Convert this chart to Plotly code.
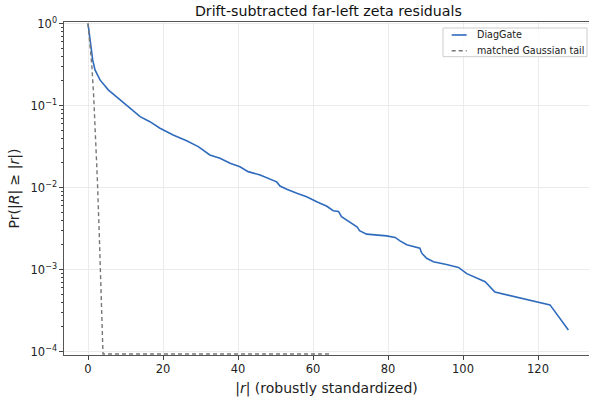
import plotly.graph_objects as go

diag_r = [0.0, 0.8, 1.25, 1.87, 3.2, 5.4, 8.5, 10.7, 13.9, 16.5, 19.2, 22.7, 26.3, 29.4,
          30.7, 32.5, 35.2, 37.9, 40.5, 42.7, 45.9, 48.5, 50.3, 51.2, 53.0, 55.7, 58.3,
          61.0, 63.7, 65.4, 66.8, 67.6, 69.9, 70.8, 71.8, 72.4, 74.3, 79.6, 81.9, 83.2,
          85.0, 88.5, 89.0, 90.3, 92.1, 95.6, 98.8, 101.0, 105.9, 108.5, 123.2, 128.1]
diag_p = [1.0, 0.475, 0.359, 0.271, 0.205, 0.155, 0.117, 0.095, 0.073, 0.0634, 0.0527,
          0.0437, 0.0372, 0.0315, 0.0287, 0.0249, 0.0227, 0.0197, 0.0179, 0.0156, 0.0142,
          0.0126, 0.0117, 0.0104, 0.0095, 0.0085, 0.0077, 0.0067, 0.0059, 0.0052, 0.0051,
          0.0044, 0.0038, 0.00356, 0.0033, 0.00297, 0.0027, 0.00257, 0.00246, 0.00223,
          0.0020, 0.00182, 0.00158, 0.00137, 0.00124, 0.00115, 0.00106, 0.00089, 0.00071,
          0.00053, 0.00037, 0.000183]

# Matched Gaussian tail (floored at the bottom)
gauss_r = [0.0, 0.5, 1.0, 1.5, 2.0, 2.5, 3.0, 3.5, 3.9, 4.0, 65.0]
gauss_p = [1.0, 0.617, 0.317, 0.134, 0.0455, 0.0124, 0.0027, 0.000465, 0.0000962,
           0.000093, 0.000093]

series_names = ["DiagGate", "matched Gaussian tail"]
x_ticks = [0, 20, 40, 60, 80, 100, 120]
y_ticks = [1e-4, 1e-3, 1e-2, 1e-1, 1]
y_ticktext = ["10<sup>\u22124</sup>", "10<sup>\u22123</sup>", "10<sup>\u22122</sup>",
              "10<sup>\u22121</sup>", "10<sup>0</sup>"]
y_minor = [m * 10.0 ** e for e in (-4, -3, -2, -1) for m in range(2, 10)]

BLUE = "#2f6bbd"
GRAY = "#777777"
DASH = "4px,3px"

fig = go.Figure()
fig.add_trace(go.Scatter(x=diag_r, y=diag_p, mode="lines", name=series_names[0],
                         line=dict(color=BLUE, width=1.6)))
fig.add_trace(go.Scatter(x=gauss_r, y=gauss_p, mode="lines", name=series_names[1],
                         line=dict(color=GRAY, width=1.4, dash=DASH)))

font = "DejaVu Sans"
fig.update_layout(
    width=589, height=401,
    margin=dict(l=64, r=0, t=22, b=46),
    paper_bgcolor="white", plot_bgcolor="white",
    font=dict(family=font, size=11.5, color="#222222"),
    title=dict(text="Drift-subtracted far-left zeta residuals", x=0.5575, xanchor="center",
               y=0.972, yanchor="middle", font=dict(size=14.2, color="#111111")),
    showlegend=False,
)
fig.update_xaxes(
    range=[-6.4, 133.6], tickvals=x_ticks, ticks="outside", ticklen=3.5,
    tickcolor="#444444", showline=True, linecolor="#555555", linewidth=1.3, mirror=True,
    showgrid=True, gridcolor="#ebebeb", gridwidth=1, zeroline=False,
    title=dict(text="|<i>r</i>| (robustly standardized)", standoff=7),
)
fig.update_yaxes(
    type="log", range=[-4.043, 0.018], tickvals=y_ticks, ticktext=y_ticktext,
    ticks="outside", ticklen=3.5, tickcolor="#444444",
    showline=True, linecolor="#555555", linewidth=1.3, mirror=False,
    showgrid=True, gridcolor="#ebebeb", gridwidth=1, zeroline=False,
    minor=dict(tickmode="array", tickvals=y_minor, ticks="outside", ticklen=2,
               tickcolor="#444444", showgrid=False),
    title=dict(text="Pr(|<i>R</i>| \u2265 |<i>r</i>|)", standoff=7),
)

# Legend drawn as a box with sample lines (matplotlib-like compact legend)
fig.add_shape(type="rect", xref="paper", yref="paper", x0=0.7219, x1=0.9962,
              y0=0.8958, y1=0.982, line=dict(color="#cccccc", width=1),
              fillcolor="rgba(255,255,255,0.8)", layer="above")
legend_rows = [(0.961, BLUE, "solid", 1.6), (0.9138, GRAY, DASH, 1.4)]
for (yy, col, dsh, w), name in zip(legend_rows, series_names):
    fig.add_shape(type="line", xref="paper", yref="paper", x0=0.7385, x1=0.767,
                  y0=yy, y1=yy, line=dict(color=col, width=w, dash=dsh), layer="above")
    fig.add_annotation(x=0.7829, y=yy, xref="paper", yref="paper", text=name,
                       showarrow=False, xanchor="left", yanchor="middle",
                       font=dict(size=9.6, color="#222222"))

fig.write_html("out.html")
